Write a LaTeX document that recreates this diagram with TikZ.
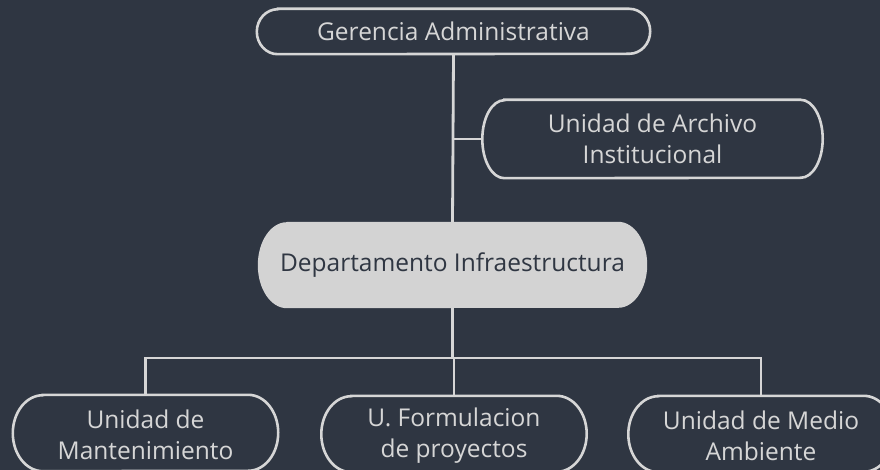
\documentclass[tikz,border=0pt]{standalone}
\usepackage{fontspec}
\setmainfont{Open Sans}
\definecolor{bg}{RGB}{47,54,66}
\definecolor{ln}{RGB}{214,214,214}
\definecolor{fillbox}{RGB}{211,211,211}
\newcommand\stadpath[4]{% name, rx, ry, style
  \path[#4] ([xshift=#2]#1.north west) -- ([xshift=-#2]#1.north east)
    arc[start angle=90,end angle=-90,x radius=#2,y radius=#3]
    -- ([xshift=#2]#1.south west)
    arc[start angle=270,end angle=90,x radius=#2,y radius=#3] -- cycle;}
\begin{document}
\begin{tikzpicture}[x=1pt,y=-1pt,
  box/.style={shape=rectangle,inner sep=0pt,align=center,font=\fontsize{24.5}{31}\selectfont},
  outline/.style={draw=ln,line width=2.6pt},
  conn/.style={draw=ln,line width=2.8pt}]
\fill[bg] (0,0) rectangle (880,470);
\useasboundingbox (0,0) rectangle (880,470);
\clip (0,0) rectangle (880,470);
% nodes
\node[box,minimum width=393pt,minimum height=45pt] (top) at (453.5,31.5) {};
\node[box,minimum width=340pt,minimum height=78pt] (arch) at (652.5,139) {};
\node[box,minimum width=389pt,minimum height=86pt] (dept) at (452.5,265) {};
\node[box,minimum width=265pt,minimum height=76pt] (left) at (145.5,433) {};
\node[box,minimum width=265pt,minimum height=76pt] (mid) at (454,434) {};
\node[box,minimum width=265pt,minimum height=76pt] (right) at (761,434) {};
% connectors
\coordinate (bus) at (0,358);
\coordinate (aj) at (453,139);
\draw[conn] (top.south) -- (dept.north);
\draw[conn] (aj) -- (arch.west);
\draw[conn] (dept.south) -- (dept.south |- bus);
\draw[conn] (left.north) -- (left.north |- bus) -- (right.north |- bus) -- (right.north);
\draw[conn] (mid.north) -- (mid.north |- bus);
% outlines
\stadpath{top}{21pt}{22.5pt}{outline,fill=bg}
\stadpath{arch}{22pt}{39pt}{outline,fill=bg}
\stadpath{dept}{29pt}{43pt}{fill=fillbox}
\stadpath{left}{30pt}{38pt}{outline,fill=bg}
\stadpath{mid}{30pt}{38pt}{outline,fill=bg}
\stadpath{right}{30pt}{38pt}{outline,fill=bg}
% texts on top
\node[box,text=ln] (ttop) at (top) {Gerencia Administrativa};
\node[box,text=ln] (tarch) at (arch) {Unidad de Archivo\\Institucional};
\node[box,text=bg] (tdept) at (dept) {Departamento Infraestructura};
\node[box,text=ln] (tleft) at ([yshift=-2pt]left) {Unidad de\\Mantenimiento};
\node[box,text=ln] (tmid) at ([yshift=-2pt]mid) {U. Formulacion\\de proyectos};
\node[box,text=ln] (tright) at ([yshift=-2pt]right) {Unidad de Medio\\Ambiente};
\end{tikzpicture}
\end{document}
